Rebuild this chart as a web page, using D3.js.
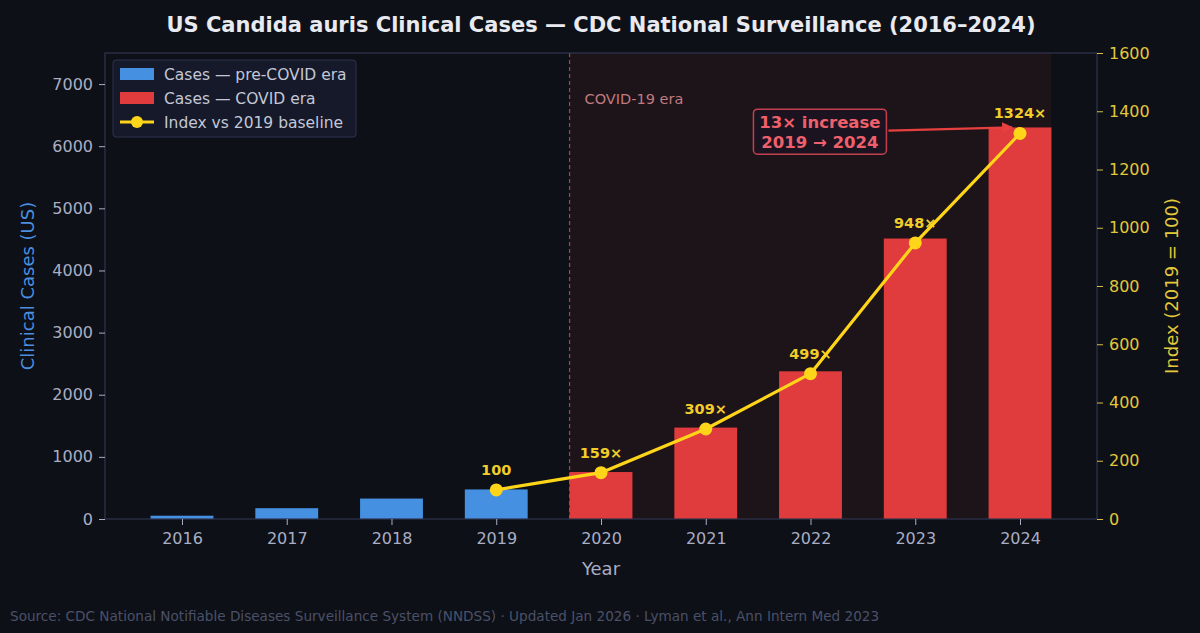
<!DOCTYPE html>
<html>
<head>
<meta charset="utf-8">
<script src="https://cdn.jsdelivr.net/npm/d3@7"></script>
<style>
  html, body { margin: 0; padding: 0; background: #0d1017; }
  svg { display: block; font-family: "DejaVu Sans", sans-serif; }
</style>
</head>
<body>
<svg id="chart" width="1200" height="633"></svg>
<script>
const years = [2016, 2017, 2018, 2019, 2020, 2021, 2022, 2023, 2024];
const cases = [53, 174, 329, 476, 756, 1471, 2377, 4514, 6302];
const indexYears = [2019, 2020, 2021, 2022, 2023, 2024];
const indexValues = [100, 159, 309, 499, 948, 1324];
const indexLabels = ["100", "159×", "309×", "499×", "948×", "1324×"];
const leftTicks = [0, 1000, 2000, 3000, 4000, 5000, 6000, 7000];
const rightTicks = [0, 200, 400, 600, 800, 1000, 1200, 1400, 1600];

const margin = { top: 53, right: 103, bottom: 114, left: 105 };
const W = 1200, H = 633;
const width = W - margin.left - margin.right;
const height = H - margin.top - margin.bottom;

const blue = "#4590e0", red = "#e03c3d", gold = "#ffd51a";
const tickColor = "#a9aec4", spineColor = "#30354f";
const plain = d3.format("d");

const svg = d3.select("#chart");
svg.append("rect").attr("width", W).attr("height", H).attr("fill", "#0d1017");

const chart = svg.append("g").attr("transform", `translate(${margin.left},${margin.top})`);

// bar positions: year index with matplotlib-like margins
const xi = d3.scaleLinear().domain([-0.735, years.length - 1 + 0.735]).range([0, width]);
const x = yr => xi(years.indexOf(yr));
const barW = xi(0.6) - xi(0);

const y = d3.scaleLinear().domain([0, 7500]).range([height, 0]);
const y2 = d3.scaleLinear().domain([0, 1600]).range([height, 0]);

// COVID era shading
const covidStart = xi(4 - 0.3), covidEnd = xi(8 + 0.3);
chart.append("rect")
  .attr("x", covidStart).attr("y", 0)
  .attr("width", covidEnd - covidStart).attr("height", height)
  .attr("fill", "#1d1419");

chart.append("line")
  .attr("x1", covidStart).attr("x2", covidStart)
  .attr("y1", 0).attr("y2", height)
  .attr("stroke", "#a8444f").attr("stroke-width", 1.2)
  .attr("stroke-dasharray", "4,3");

chart.append("text")
  .attr("x", covidStart + 15).attr("y", 51)
  .attr("fill", "#c07a80").style("font-size", "14.5px")
  .text("COVID-19 era");

// bars
chart.selectAll(".bar")
  .data(years.map((yr, i) => ({ year: yr, value: cases[i] })))
  .enter()
  .append("rect")
  .attr("class", "bar")
  .attr("x", d => x(d.year) - barW / 2)
  .attr("y", d => y(d.value))
  .attr("width", barW)
  .attr("height", d => height - y(d.value))
  .attr("fill", d => d.year >= 2020 ? red : blue);

// spines
chart.append("rect")
  .attr("x", 0).attr("y", 0).attr("width", width).attr("height", height)
  .attr("fill", "none").attr("stroke", spineColor).attr("stroke-width", 1.2);

// left axis
const leftAxis = chart.append("g")
  .call(d3.axisLeft(y).tickValues(leftTicks).tickFormat(plain).tickSize(6).tickPadding(6));
leftAxis.select(".domain").remove();
leftAxis.selectAll("line").attr("stroke", tickColor);
leftAxis.selectAll("text").attr("fill", tickColor).style("font-size", "16px")
  .style("font-family", "DejaVu Sans");

// right axis
const rightAxis = chart.append("g")
  .attr("transform", `translate(${width},0)`)
  .call(d3.axisRight(y2).tickValues(rightTicks).tickFormat(plain).tickSize(6).tickPadding(6));
rightAxis.select(".domain").remove();
rightAxis.selectAll("line").attr("stroke", "#d9bf3a");
rightAxis.selectAll("text").attr("fill", "#e2c83a").style("font-size", "16px")
  .style("font-family", "DejaVu Sans");

// bottom axis
const bottomAxis = chart.append("g")
  .attr("transform", `translate(0,${height})`)
  .call(d3.axisBottom(xi).tickValues(d3.range(years.length))
    .tickFormat(i => years[i]).tickSize(6).tickPadding(8));
bottomAxis.select(".domain").remove();
bottomAxis.selectAll("line").attr("stroke", tickColor);
bottomAxis.selectAll("text").attr("fill", tickColor).style("font-size", "16px")
  .style("font-family", "DejaVu Sans");

// index labels (drawn under the line)
const idx = indexYears.map((yr, i) => ({ year: yr, value: indexValues[i], label: indexLabels[i] }));
chart.selectAll(".idx-label")
  .data(idx)
  .enter()
  .append("text")
  .attr("class", "idx-label")
  .attr("x", d => x(d.year))
  .attr("y", d => y2(d.value) - 15)
  .attr("text-anchor", "middle")
  .attr("fill", "#f0cd2a")
  .style("font-size", "14.5px").style("font-weight", "bold")
  .text(d => d.label);

// index line
const line = d3.line().x(d => x(d.year)).y(d => y2(d.value));
chart.append("path")
  .datum(idx)
  .attr("fill", "none")
  .attr("stroke", gold)
  .attr("stroke-width", 3.2)
  .attr("stroke-linejoin", "round")
  .attr("d", line);

chart.selectAll(".idx-dot")
  .data(idx)
  .enter()
  .append("circle")
  .attr("cx", d => x(d.year))
  .attr("cy", d => y2(d.value))
  .attr("r", 6.5)
  .attr("fill", gold);

// annotation: 13x increase
const defs = svg.append("defs");
defs.append("marker")
  .attr("id", "arrow")
  .attr("viewBox", "0 0 10 10")
  .attr("refX", 9).attr("refY", 5)
  .attr("markerWidth", 5).attr("markerHeight", 5)
  .attr("orient", "auto")
  .append("path").attr("d", "M0,0 L10,5 L0,10 z").attr("fill", "#e8403f");

const annX = xi(6.09), annY = y2(1330);
const boxW = 133, boxH = 45;
chart.append("line")
  .attr("x1", annX + boxW / 2 + 2).attr("y1", annY - 1)
  .attr("x2", x(2024) - 8).attr("y2", y2(1324) - 6)
  .attr("stroke", "#e8403f").attr("stroke-width", 2.2)
  .attr("marker-end", "url(#arrow)");

chart.append("rect")
  .attr("x", annX - boxW / 2).attr("y", annY - boxH / 2)
  .attr("width", boxW).attr("height", boxH)
  .attr("rx", 4)
  .attr("fill", "#1b1420")
  .attr("stroke", "#c2404f").attr("stroke-width", 1.5);

const annText = chart.append("text")
  .attr("text-anchor", "middle")
  .attr("fill", "#f0606c")
  .style("font-size", "16.5px").style("font-weight", "bold");
annText.append("tspan").attr("x", annX).attr("y", annY - 4).text("13× increase");
annText.append("tspan").attr("x", annX).attr("y", annY + 16).text("2019 → 2024");

// legend
const legend = chart.append("g").attr("transform", "translate(8,7)");
legend.append("rect")
  .attr("width", 243).attr("height", 77).attr("rx", 3)
  .attr("fill", "#151929").attr("stroke", "#2e3350").attr("stroke-width", 1);

const legendItems = [
  { label: "Cases — pre-COVID era", type: "bar", color: blue },
  { label: "Cases — COVID era", type: "bar", color: red },
  { label: "Index vs 2019 baseline", type: "line", color: gold }
];
legendItems.forEach((d, i) => {
  const g = legend.append("g").attr("transform", `translate(7,${14 + i * 24})`);
  if (d.type === "bar") {
    g.append("rect").attr("x", 0).attr("y", -6).attr("width", 34).attr("height", 12).attr("fill", d.color);
  } else {
    g.append("line").attr("x1", 0).attr("x2", 34).attr("y1", 0).attr("y2", 0)
      .attr("stroke", d.color).attr("stroke-width", 3.2);
    g.append("circle").attr("cx", 17).attr("cy", 0).attr("r", 6).attr("fill", d.color);
  }
  g.append("text").attr("x", 44).attr("y", 5.5)
    .attr("fill", "#c3c7d6").style("font-size", "15.5px")
    .text(d.label);
});

// axis titles
chart.append("text")
  .attr("x", width / 2).attr("y", height + 56)
  .attr("text-anchor", "middle")
  .attr("fill", tickColor).style("font-size", "18px")
  .text("Year");

chart.append("text")
  .attr("transform", `translate(${-71},${height / 2}) rotate(-90)`)
  .attr("text-anchor", "middle")
  .attr("fill", "#4a8fe0").style("font-size", "18px")
  .text("Clinical Cases (US)");

chart.append("text")
  .attr("transform", `translate(${width + 81},${height / 2}) rotate(-90)`)
  .attr("text-anchor", "middle")
  .attr("fill", "#e2c83a").style("font-size", "18px")
  .text("Index (2019 = 100)");

// title & footer
svg.append("text")
  .attr("x", 601).attr("y", 32)
  .attr("text-anchor", "middle")
  .attr("fill", "#e8eaf0").style("font-size", "21px").style("font-weight", "bold")
  .text("US Candida auris Clinical Cases — CDC National Surveillance (2016–2024)");

svg.append("text")
  .attr("x", 10).attr("y", 621)
  .attr("fill", "#4b5068").style("font-size", "13.6px")
  .text("Source: CDC National Notifiable Diseases Surveillance System (NNDSS) · Updated Jan 2026 · Lyman et al., Ann Intern Med 2023");
</script>
</body>
</html>
